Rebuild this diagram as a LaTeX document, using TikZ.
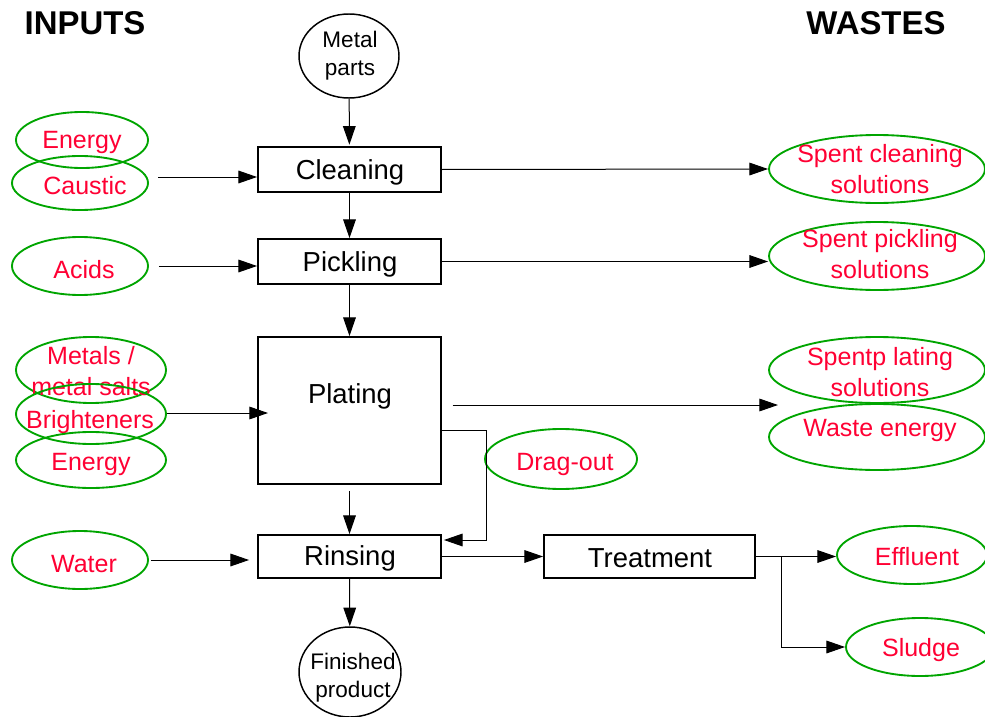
\documentclass[tikz,border=0pt]{standalone}
\usepackage{fontspec}
\setmainfont{Liberation Sans}
\usetikzlibrary{arrows.meta,shapes.geometric}
\definecolor{txtred}{RGB}{255,0,51}
\definecolor{ellgreen}{RGB}{0,165,0}
\begin{document}
\begin{tikzpicture}[x=0.75pt,y=-0.75pt,
  box/.style={draw,line width=1.4pt,inner sep=0pt,font=\fontsize{20.6}{24}\selectfont},
  ell/.style={draw=ellgreen,line width=1.4pt,ellipse,inner sep=0pt},
  circ/.style={draw,line width=1.1pt,ellipse,inner sep=0pt},
  rtxt/.style={text=txtred,font=\fontsize{18.75}{23.5}\selectfont,align=center,inner sep=0pt,yshift=-1.5pt},
  btxt/.style={font=\fontsize{20.6}{24}\selectfont,inner sep=0pt,yshift=-1.5pt},
  ctxt/.style={font=\fontsize{16.9}{21}\selectfont,align=center,inner sep=0pt,yshift=-1pt},
  head/.style={font=\fontsize{24.7}{28}\selectfont\bfseries,inner sep=0pt},
  arr/.style={line width=0.75pt,-{Triangle[length=14pt,width=9.5pt]}},
  ln/.style={line width=0.75pt}]
\useasboundingbox (0,0) rectangle (985,717);

% headers
\node[head] (hin) at (85,23) {INPUTS};
\node[head] (hout) at (876,23) {WASTES};

% circles
\node[circ,minimum width=75pt,minimum height=63pt] (metal) at (349,56) {};
\node[ctxt] (metalt) at (350,54) {Metal\\parts};
\node[circ,minimum width=76.5pt,minimum height=67.5pt] (finished) at (350,672) {};
\node[ctxt] (finisht) at (353,676) {Finished\\product};

% process boxes
\node[box,minimum width=137.25pt,minimum height=33.75pt] (clean) at (349.5,169.5) {};
\node[btxt] (cleant) at (350,170) {Cleaning};
\node[box,minimum width=137.25pt,minimum height=33.75pt] (pick) at (349.5,261.5) {};
\node[btxt] (pickt) at (350,262) {Pickling};
\node[box,minimum width=137.25pt,minimum height=110.25pt] (plate) at (349.5,410.5) {};
\node[btxt] (platet) at (350,394) {Plating};
\node[box,minimum width=137.25pt,minimum height=32.25pt] (rinse) at (349.5,556.5) {};
\node[btxt] (rinset) at (350,556) {Rinsing};
\node[box,minimum width=158.25pt,minimum height=32.25pt] (treat) at (649.5,556.5) {};
\node[btxt] (treatt) at (650,556) {Treatment};

% input ellipses
\node[ell,minimum width=99pt,minimum height=42pt] (energyA) at (82,140) {};
\node[rtxt] at (82,140) {Energy};
\node[ell,minimum width=102pt,minimum height=40.5pt] (caustic) at (80,183) {};
\node[rtxt] at (85,184) {Caustic};
\node[ell,minimum width=102pt,minimum height=43.5pt] (acids) at (80,266) {};
\node[rtxt] at (84,268) {Acids};
\node[ell,minimum width=112.5pt,minimum height=49.5pt] (metals) at (91,370) {};
\node[rtxt] at (91,369) {Metals /\\metal salts};
\node[ell,minimum width=112.5pt,minimum height=45pt] (bright) at (91,414) {};
\node[rtxt] at (90,420) {Brighteners};
\node[ell,minimum width=112.5pt,minimum height=42pt] (energyB) at (91,460) {};
\node[rtxt] at (91,462) {Energy};
\node[ell,minimum width=102pt,minimum height=43.5pt] (water) at (80,560) {};
\node[rtxt] at (84,562) {Water};

% drag-out
\node[ell,minimum width=114pt,minimum height=45pt] (drag) at (561,459) {};
\node[rtxt] at (565,462) {Drag-out};

% waste ellipses
\node[ell,minimum width=162pt,minimum height=51pt] (sclean) at (877,169) {};
\node[rtxt] at (880,167) {Spent cleaning\\solutions};
\node[ell,minimum width=162pt,minimum height=51pt] (spick) at (877,256) {};
\node[rtxt] at (880,252) {Spent pickling\\solutions};
\node[ell,minimum width=162pt,minimum height=49.5pt] (splate) at (877,370) {};
\node[rtxt] at (880,370) {Spentp lating\\solutions};
\node[ell,minimum width=162pt,minimum height=49.5pt] (wenergy) at (877,437) {};
\node[rtxt] at (880,428) {Waste energy};
\node[ell,minimum width=112.5pt,minimum height=43.5pt] (effl) at (912,555) {};
\node[rtxt] at (917,555) {Effluent};
\node[ell,minimum width=111pt,minimum height=43.5pt] (sludge) at (920,647) {};
\node[rtxt] at (921,648) {Sludge};

% main flow
\draw[arr,shorten >=1pt] (metal) -- (clean);
\draw[arr] (clean) -- (pick);
\draw[arr] (pick) -- (plate);
\draw[arr,shorten <=4.5pt] (plate) -- (rinse);
\draw[arr] (rinse) -- (finished);

% inputs
\coordinate (cin) at (158,177);
\draw[arr] (cin) -- (cin -| clean.west);
\draw[arr,shorten <=7.5pt] (acids.east) -- (acids.east -| pick.west);
\coordinate (platein) at (268,413);
\draw[arr] (bright.east |- platein) -- (platein);
\draw[arr,shorten <=1.5pt,shorten >=6pt] (water.east) -- (water.east -| rinse.west);

% wastes
\draw[arr] (clean.east) -- (sclean.west);
\draw[arr] (pick.east) -- (pick.east -| spick.west);
\coordinate (pout) at (778,405);
\draw[arr,shorten <=8pt] (plate.east |- pout) -- (pout);

% drag-out loop
\coordinate (dj) at (486,430);
\coordinate (dk) at (486,540);
\draw[arr,shorten >=1.5pt] (plate.east |- dj) -- (dj) -- (dk) -- (rinse.east |- dk);

% rinse to treatment
\draw[arr] (rinse.east) -- (treat.west);

% treatment outputs
\coordinate (tb) at (781,556.5);
\draw[ln] (treat.east) -- (tb);
\draw[arr] (tb) -- (tb -| effl.west);
\draw[arr] (tb) |- (sludge.west);
\end{tikzpicture}
\end{document}
